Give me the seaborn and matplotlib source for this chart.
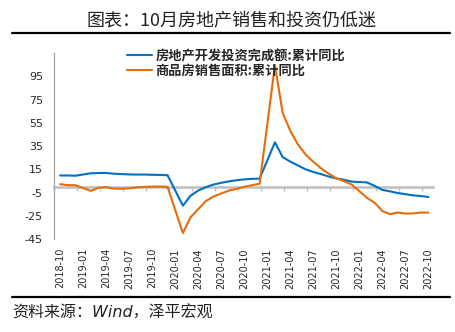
import numpy as np
import pandas as pd
import matplotlib
matplotlib.use("Agg")
import matplotlib.pyplot as plt
from matplotlib.lines import Line2D
import seaborn as sns

# ---------------- data ----------------
months = ["2018-10", "2018-11", "2018-12",
          "2019-02", "2019-03", "2019-04", "2019-05", "2019-06", "2019-07",
          "2019-08", "2019-09", "2019-10", "2019-11", "2019-12",
          "2020-02", "2020-03", "2020-04", "2020-05", "2020-06", "2020-07",
          "2020-08", "2020-09", "2020-10", "2020-11", "2020-12",
          "2021-02", "2021-03", "2021-04", "2021-05", "2021-06", "2021-07",
          "2021-08", "2021-09", "2021-10", "2021-11", "2021-12",
          "2022-02", "2022-03", "2022-04", "2022-05", "2022-06", "2022-07",
          "2022-08", "2022-09", "2022-10"]
invest = [9.7, 9.7, 9.5,
          11.6, 11.8, 11.9, 11.2, 10.9, 10.6, 10.5, 10.5, 10.3, 10.2, 9.9,
          -16.3, -7.7, -3.3, -0.3, 1.9, 3.4, 4.6, 5.6, 6.3, 6.8, 7.0,
          38.3, 25.6, 21.6, 18.3, 15.0, 12.7, 10.9, 8.8, 7.2, 6.0, 4.4,
          3.7, 0.7, -2.7, -4.0, -5.4, -6.4, -7.4, -8.0, -8.8]
sales = [2.2, 1.4, 1.3,
         -3.6, -0.9, -0.3, -1.6, -1.8, -1.3, -0.6, -0.1, 0.1, 0.2, -0.1,
         -39.9, -26.3, -19.3, -12.3, -8.4, -5.8, -3.3, -1.8, 0.0, 1.3, 2.6,
         104.9, 63.8, 48.1, 36.3, 27.7, 21.5, 15.9, 11.3, 7.3, 4.8, 1.9,
         -9.6, -13.8, -20.9, -23.6, -22.2, -23.1, -23.0, -22.2, -22.3]
series_names = ["房地产开发投资完成额:累计同比", "商品房销售面积:累计同比"]
tick_labels = ["2018-10", "2019-01", "2019-04", "2019-07", "2019-10",
               "2020-01", "2020-04", "2020-07", "2020-10", "2021-01",
               "2021-04", "2021-07", "2021-10", "2022-01", "2022-04",
               "2022-07", "2022-10"]
yticks = [-45, -25, -5, 15, 35, 55, 75, 95]
title = "图表：10月房地产销售和投资仍低迷"
source = "资料来源：Wind，泽平宏观"

# ---------------- build table ----------------
start = pd.Period(months[0], freq="M")
def midx(s):
    return (pd.Period(s, freq="M") - start).n

df = pd.DataFrame({
    "idx": [midx(m) for m in months] * 2,
    "value": invest + sales,
    "series": [series_names[0]] * len(months) + [series_names[1]] * len(months),
})

sns.set_theme(style="white")
plt.rcParams["font.family"] = ["Noto Sans CJK SC", "DejaVu Sans"]

fig = plt.figure(figsize=(4.55, 3.32), dpi=100)
ax = fig.add_axes([54 / 455, 93 / 332, 379 / 455, 185.8 / 332])

blue = "#0070C0"
orange = "#E46C0A"
sns.lineplot(data=df, x="idx", y="value", hue="series",
             palette=[blue, orange], linewidth=1.5, ax=ax, zorder=5)

ax.set_xlim(-0.8, 48.6)
ax.set_ylim(-45, 115)
ax.set_yticks(yticks)
ax.set_yticklabels([str(v) for v in yticks], fontsize=8, family="DejaVu Sans")
ax.set_xticks([midx(t) for t in tick_labels])
ax.set_xticklabels(tick_labels, rotation=90, fontsize=7, family="DejaVu Sans")
ax.tick_params(axis="x", length=0, pad=6.5)
ax.tick_params(axis="y", length=3, width=0.8, color="#A6A6A6", pad=5, direction="out")
ax.set_xlabel("")
ax.set_ylabel("")
for s in ["top", "right", "bottom"]:
    ax.spines[s].set_visible(False)
ax.spines["left"].set_color("#A6A6A6")
ax.spines["left"].set_linewidth(0.9)

# zero line with tick marks
sec = ax.secondary_xaxis(0, transform=ax.transData)
sec.set_xticks(np.arange(-0.8, 48, 3))
sec.tick_params(axis="x", direction="out", length=3, width=1.0,
                color="#BFBFBF", labelbottom=False)
sec.spines["bottom"].set_color("#BFBFBF")
sec.spines["bottom"].set_linewidth(1.8)
sec.set_zorder(1)

# legend
handles, labels = ax.get_legend_handles_labels()
ax.legend(handles, labels, loc="upper left",
          bbox_to_anchor=(127 / 455, 1 - 49 / 332), bbox_transform=fig.transFigure,
          frameon=False, prop={"weight": "bold", "size": 9.5},
          handlelength=1.9, handletextpad=0.25, labelspacing=0.05,
          borderpad=0, borderaxespad=0)

# title and rules
fig.text(231 / 455, 1 - 21 / 332, title, ha="center", va="center",
         fontsize=13, color="#222222")
fig.add_artist(Line2D([12 / 455, 450 / 455], [1 - 33 / 332] * 2,
                      transform=fig.transFigure, color="black", lw=1.6))
fig.add_artist(Line2D([12 / 455, 450 / 455], [1 - 297 / 332] * 2,
                      transform=fig.transFigure, color="black", lw=1.6))
fig.text(12 / 455, 1 - 313 / 332, source, ha="left", va="center",
         fontsize=11.5, style="italic", color="#222222",
         family=["DejaVu Sans", "Noto Sans CJK SC"])

fig.savefig("out.png", dpi=100)
